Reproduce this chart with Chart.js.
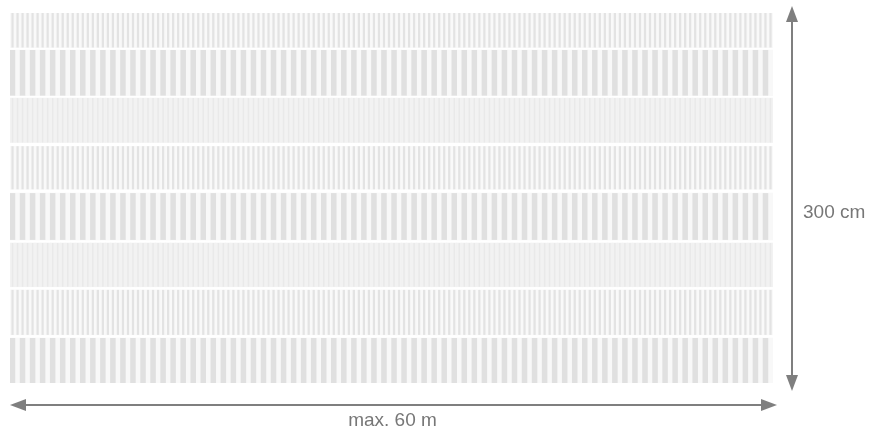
<!DOCTYPE html>
<html>
<head>
<meta charset="utf-8">
<script src="https://cdn.jsdelivr.net/npm/chart.js@4/dist/chart.umd.min.js"></script>
<style>
  html, body { margin: 0; padding: 0; background: #ffffff; }
  #wrap { width: 884px; height: 434px; }
</style>
</head>
<body>
<div id="wrap"><canvas id="c" width="884" height="434"></canvas></div>
<script>
// ---- data ----
const stripeCount = 152;                       // narrow stripe positions across the width
const categories = Array.from({ length: stripeCount }, (_, i) => String(i + 1));
const bandLabels   = ['Band 1', 'Band 2', 'Band 3', 'Band 4', 'Band 5', 'Band 6', 'Band 7', 'Band 8'];
const bandBottomCm = [272, 233, 195, 157, 116, 78, 39, 0];
const bandTopCm    = [300, 270, 231, 192, 154, 113.5, 75.5, 36.5];
const bandKind     = ['fine', 'wide', 'hair', 'fine', 'wide', 'hair', 'fine', 'wide'];
const heightLabel  = '300 cm';
const widthLabel   = 'max. 60 m';
const heightMaxCm  = 300;

// ---- styles ----
const kindStyle = {
  wide: { bg: '#f8f8f8', stripe: '#e0e0e0', bar: 1.1,  every: 2 },
  fine: { bg: '#f9f9f9', stripe: '#e3e3e3', bar: 0.45, every: 1 },
  hair: { bg: '#f2f2f2', stripe: '#e9e9e9', bar: 0.3,  every: 1 }
};

const datasets = [];
bandLabels.forEach((label, i) => {
  const range = [bandBottomCm[i], bandTopCm[i]];
  const st = kindStyle[bandKind[i]];
  datasets.push({
    label: label + ' ground',
    data: categories.map(() => range),
    backgroundColor: st.bg,
    barPercentage: 1,
    categoryPercentage: 1,
    order: 2
  });
  datasets.push({
    label: label,
    data: categories.map((_, j) => (j % st.every === 0 ? range : null)),
    backgroundColor: st.stripe,
    barPercentage: st.bar,
    categoryPercentage: 1,
    order: 1
  });
});

const arrowColor = '#7f7f7f';
function arrowHead(ctx, x, y, dx, dy) {
  const len = 16, half = 6;
  const px = -dy, py = dx;
  ctx.beginPath();
  ctx.moveTo(x, y);
  ctx.lineTo(x - dx * len + px * half, y - dy * len + py * half);
  ctx.lineTo(x - dx * len - px * half, y - dy * len - py * half);
  ctx.closePath();
  ctx.fill();
}

const dimensionPlugin = {
  id: 'dimensions',
  afterDraw(chart) {
    const { ctx, chartArea: a, scales } = chart;
    const yTop = scales.y.getPixelForValue(heightMaxCm);
    const yBot = scales.y.getPixelForValue(0);
    ctx.save();
    ctx.strokeStyle = arrowColor;
    ctx.fillStyle = arrowColor;
    ctx.lineWidth = 2;
    // vertical arrow
    const vx = a.right + 19;
    const t1 = yTop - 7, t2 = yBot + 8;
    ctx.beginPath();
    ctx.moveTo(vx, t1 + 10);
    ctx.lineTo(vx, t2 - 10);
    ctx.stroke();
    arrowHead(ctx, vx, t1, 0, -1);
    arrowHead(ctx, vx, t2, 0, 1);
    // horizontal arrow
    const hy = a.bottom + 22;
    const l1 = a.left, l2 = a.right + 4;
    ctx.beginPath();
    ctx.moveTo(l1 + 10, hy);
    ctx.lineTo(l2 - 10, hy);
    ctx.stroke();
    arrowHead(ctx, l1, hy, -1, 0);
    arrowHead(ctx, l2, hy, 1, 0);
    // labels
    ctx.fillStyle = '#777777';
    ctx.font = '19px "Liberation Sans", Arial, sans-serif';
    ctx.textBaseline = 'middle';
    ctx.textAlign = 'left';
    ctx.fillText(heightLabel, vx + 11, (yTop + yBot) / 2 + 15);
    ctx.textAlign = 'center';
    ctx.fillText(widthLabel, (a.left + a.right) / 2 + 1, hy + 16);
    ctx.restore();
  }
};

new Chart(document.getElementById('c'), {
  type: 'bar',
  data: { labels: categories, datasets },
  options: {
    responsive: false,
    animation: false,
    devicePixelRatio: 1,
    grouped: false,
    layout: { padding: { left: 10, right: 111, top: 13, bottom: 51 } },
    scales: {
      x: { display: false },
      y: { display: false, min: 0, max: heightMaxCm }
    },
    plugins: { legend: { display: false }, tooltip: { enabled: false } },
    datasets: { bar: { borderWidth: 0 } }
  },
  plugins: [dimensionPlugin]
});
</script>
</body>
</html>
